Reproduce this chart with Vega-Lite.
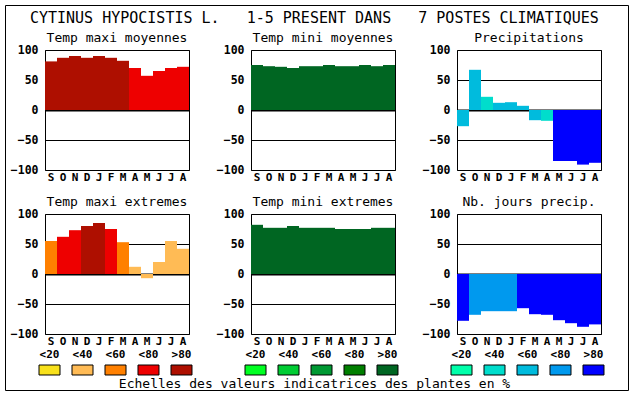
{
  "$schema": "https://vega.github.io/schema/vega-lite/v6.json",
  "background": "white",
  "padding": {"left": 4, "top": 4, "right": 0, "bottom": 0},
  "datasets": {
    "mesures": [
      {"p": "tx_moy", "mois": "Sept", "valeur": 81, "classe": "TX >80"},
      {"p": "tx_moy", "mois": "Oct", "valeur": 87, "classe": "TX >80"},
      {"p": "tx_moy", "mois": "Nov", "valeur": 90, "classe": "TX >80"},
      {"p": "tx_moy", "mois": "Dec", "valeur": 87, "classe": "TX >80"},
      {"p": "tx_moy", "mois": "Janv", "valeur": 90, "classe": "TX >80"},
      {"p": "tx_moy", "mois": "Fevr", "valeur": 87, "classe": "TX >80"},
      {"p": "tx_moy", "mois": "Mars", "valeur": 82, "classe": "TX >80"},
      {"p": "tx_moy", "mois": "Avr", "valeur": 70, "classe": "TX <80"},
      {"p": "tx_moy", "mois": "Mai", "valeur": 57, "classe": "TX <80"},
      {"p": "tx_moy", "mois": "Juin", "valeur": 65, "classe": "TX <80"},
      {"p": "tx_moy", "mois": "Juil", "valeur": 70, "classe": "TX <80"},
      {"p": "tx_moy", "mois": "Aout", "valeur": 72, "classe": "TX <80"},
      {"p": "tn_moy", "mois": "Sept", "valeur": 75, "classe": "TN >80"},
      {"p": "tn_moy", "mois": "Oct", "valeur": 73, "classe": "TN >80"},
      {"p": "tn_moy", "mois": "Nov", "valeur": 72, "classe": "TN >80"},
      {"p": "tn_moy", "mois": "Dec", "valeur": 70, "classe": "TN >80"},
      {"p": "tn_moy", "mois": "Janv", "valeur": 73, "classe": "TN >80"},
      {"p": "tn_moy", "mois": "Fevr", "valeur": 73, "classe": "TN >80"},
      {"p": "tn_moy", "mois": "Mars", "valeur": 75, "classe": "TN >80"},
      {"p": "tn_moy", "mois": "Avr", "valeur": 73, "classe": "TN >80"},
      {"p": "tn_moy", "mois": "Mai", "valeur": 73, "classe": "TN >80"},
      {"p": "tn_moy", "mois": "Juin", "valeur": 75, "classe": "TN >80"},
      {"p": "tn_moy", "mois": "Juil", "valeur": 73, "classe": "TN >80"},
      {"p": "tn_moy", "mois": "Aout", "valeur": 75, "classe": "TN >80"},
      {"p": "pr", "mois": "Sept", "valeur": -27, "classe": "PR <60"},
      {"p": "pr", "mois": "Oct", "valeur": 67, "classe": "PR <60"},
      {"p": "pr", "mois": "Nov", "valeur": 22, "classe": "PR <40"},
      {"p": "pr", "mois": "Dec", "valeur": 12, "classe": "PR <60"},
      {"p": "pr", "mois": "Janv", "valeur": 13, "classe": "PR <60"},
      {"p": "pr", "mois": "Fevr", "valeur": 7, "classe": "PR <60"},
      {"p": "pr", "mois": "Mars", "valeur": -17, "classe": "PR <60"},
      {"p": "pr", "mois": "Avr", "valeur": -18, "classe": "PR <40"},
      {"p": "pr", "mois": "Mai", "valeur": -85, "classe": "PR >80"},
      {"p": "pr", "mois": "Juin", "valeur": -85, "classe": "PR >80"},
      {"p": "pr", "mois": "Juil", "valeur": -91, "classe": "PR >80"},
      {"p": "pr", "mois": "Aout", "valeur": -88, "classe": "PR >80"},
      {"p": "tx_ext", "mois": "Sept", "valeur": 55, "classe": "TX <60"},
      {"p": "tx_ext", "mois": "Oct", "valeur": 62, "classe": "TX <80"},
      {"p": "tx_ext", "mois": "Nov", "valeur": 73, "classe": "TX <80"},
      {"p": "tx_ext", "mois": "Dec", "valeur": 80, "classe": "TX >80"},
      {"p": "tx_ext", "mois": "Janv", "valeur": 85, "classe": "TX >80"},
      {"p": "tx_ext", "mois": "Fevr", "valeur": 75, "classe": "TX <80"},
      {"p": "tx_ext", "mois": "Mars", "valeur": 53, "classe": "TX <60"},
      {"p": "tx_ext", "mois": "Avr", "valeur": 12, "classe": "TX <40"},
      {"p": "tx_ext", "mois": "Mai", "valeur": -7, "classe": "TX <40"},
      {"p": "tx_ext", "mois": "Juin", "valeur": 20, "classe": "TX <40"},
      {"p": "tx_ext", "mois": "Juil", "valeur": 55, "classe": "TX <40"},
      {"p": "tx_ext", "mois": "Aout", "valeur": 42, "classe": "TX <40"},
      {"p": "tn_ext", "mois": "Sept", "valeur": 82, "classe": "TN >80"},
      {"p": "tn_ext", "mois": "Oct", "valeur": 77, "classe": "TN >80"},
      {"p": "tn_ext", "mois": "Nov", "valeur": 77, "classe": "TN >80"},
      {"p": "tn_ext", "mois": "Dec", "valeur": 80, "classe": "TN >80"},
      {"p": "tn_ext", "mois": "Janv", "valeur": 77, "classe": "TN >80"},
      {"p": "tn_ext", "mois": "Fevr", "valeur": 77, "classe": "TN >80"},
      {"p": "tn_ext", "mois": "Mars", "valeur": 77, "classe": "TN >80"},
      {"p": "tn_ext", "mois": "Avr", "valeur": 75, "classe": "TN >80"},
      {"p": "tn_ext", "mois": "Mai", "valeur": 75, "classe": "TN >80"},
      {"p": "tn_ext", "mois": "Juin", "valeur": 75, "classe": "TN >80"},
      {"p": "tn_ext", "mois": "Juil", "valeur": 77, "classe": "TN >80"},
      {"p": "tn_ext", "mois": "Aout", "valeur": 77, "classe": "TN >80"},
      {"p": "nj", "mois": "Sept", "valeur": -78, "classe": "PR >80"},
      {"p": "nj", "mois": "Oct", "valeur": -68, "classe": "PR <80"},
      {"p": "nj", "mois": "Nov", "valeur": -62, "classe": "PR <80"},
      {"p": "nj", "mois": "Dec", "valeur": -62, "classe": "PR <80"},
      {"p": "nj", "mois": "Janv", "valeur": -62, "classe": "PR <80"},
      {"p": "nj", "mois": "Fevr", "valeur": -57, "classe": "PR >80"},
      {"p": "nj", "mois": "Mars", "valeur": -67, "classe": "PR >80"},
      {"p": "nj", "mois": "Avr", "valeur": -68, "classe": "PR >80"},
      {"p": "nj", "mois": "Mai", "valeur": -77, "classe": "PR >80"},
      {"p": "nj", "mois": "Juin", "valeur": -82, "classe": "PR >80"},
      {"p": "nj", "mois": "Juil", "valeur": -88, "classe": "PR >80"},
      {"p": "nj", "mois": "Aout", "valeur": -84, "classe": "PR >80"}
    ],
    "echelles": [
      {"e": "TX", "rang": 1, "seuil": "<20", "classe": "TX <20"}, {"e": "TX", "rang": 2, "seuil": "<40", "classe": "TX <40"}, {"e": "TX", "rang": 3, "seuil": "<60", "classe": "TX <60"}, {"e": "TX", "rang": 4, "seuil": "<80", "classe": "TX <80"}, {"e": "TX", "rang": 5, "seuil": ">80", "classe": "TX >80"},
      {"e": "TN", "rang": 1, "seuil": "<20", "classe": "TN <20"}, {"e": "TN", "rang": 2, "seuil": "<40", "classe": "TN <40"}, {"e": "TN", "rang": 3, "seuil": "<60", "classe": "TN <60"}, {"e": "TN", "rang": 4, "seuil": "<80", "classe": "TN <80"}, {"e": "TN", "rang": 5, "seuil": ">80", "classe": "TN >80"},
      {"e": "PR", "rang": 1, "seuil": "<20", "classe": "PR <20"}, {"e": "PR", "rang": 2, "seuil": "<40", "classe": "PR <40"}, {"e": "PR", "rang": 3, "seuil": "<60", "classe": "PR <60"}, {"e": "PR", "rang": 4, "seuil": "<80", "classe": "PR <80"}, {"e": "PR", "rang": 5, "seuil": ">80", "classe": "PR >80"}
    ],
    "cadre": [{"c": 1}]
  },
  "align": "none",
  "spacing": -381,
  "vconcat": [
    {
      "width": 623, "height": 385,
      "view": {"stroke": "black", "strokeWidth": 1},
      "data": {"name": "cadre"},
      "mark": {"type": "point", "opacity": 0, "size": 0, "strokeWidth": 0},
      "encoding": {
        "x": {"field": "c", "type": "quantitative", "axis": null},
        "y": {"field": "c", "type": "quantitative", "axis": null}
      }
    },
    {
      "spacing": 3,
      "hconcat": [
        {
          "width": 1, "height": 1,
          "view": {"stroke": null},
          "data": {"name": "cadre"},
          "mark": {"type": "point", "opacity": 0, "size": 0, "strokeWidth": 0},
          "encoding": {}
        },
        {
          "title": {"text": "CYTINUS HYPOCISTIS L.\u00a0\u00a0\u00a01-5 PRESENT DANS\u00a0\u00a0\u00a07 POSTES CLIMATIQUES", "fontSize": 15, "anchor": "middle", "offset": 6, "frame": "bounds", "dx": 6.5},
          "spacing": 2,
          "vconcat": [
            {
              "spacing": 12,
              "vconcat": [
                {
                  "spacing": 25,
                  "hconcat": [
                    {
                      "title": {"text": "Temp maxi moyennes", "frame": "group"},
                      "width": 144, "height": 120,
                      "data": {"name": "mesures"},
                      "transform": [{"filter": "datum.p === 'tx_moy'"}],
                      "mark": "bar",
                      "encoding": {
                        "x": {"field": "mois", "type": "nominal", "sort": ["Sept","Oct","Nov","Dec","Janv","Fevr","Mars","Avr","Mai","Juin","Juil","Aout"], "scale": {"paddingInner": 0, "paddingOuter": 0}, "axis": {"labelExpr": "slice(datum.label,0,1)"}},
                        "y": {"field": "valeur", "type": "quantitative", "scale": {"domain": [-100, 100], "nice": false}, "axis": {"values": [-100,-50,0,50,100], "gridWidth": {"condition": {"test": "datum.value === 0", "value": 2}, "value": 1}}},
                        "color": {"field": "classe", "type": "nominal", "legend": null, "scale": {"domain": ["TX <20","TX <40","TX <60","TX <80","TX >80","TN <20","TN <40","TN <60","TN <80","TN >80","PR <20","PR <40","PR <60","PR <80","PR >80"], "range": ["#F8E11B","#FFBB55","#FF8000","#EE0000","#AE0F00","#00FF22","#00CC33","#009933","#007F00","#006622","#00FFAA","#00DDCC","#00BBDD","#0099EE","#0000FF"]}}
                      }
                    },
                    {
                      "title": {"text": "Temp mini moyennes", "frame": "group"},
                      "width": 144, "height": 120,
                      "data": {"name": "mesures"},
                      "transform": [{"filter": "datum.p === 'tn_moy'"}],
                      "mark": "bar",
                      "encoding": {
                        "x": {"field": "mois", "type": "nominal", "sort": ["Sept","Oct","Nov","Dec","Janv","Fevr","Mars","Avr","Mai","Juin","Juil","Aout"], "scale": {"paddingInner": 0, "paddingOuter": 0}, "axis": {"labelExpr": "slice(datum.label,0,1)"}},
                        "y": {"field": "valeur", "type": "quantitative", "scale": {"domain": [-100, 100], "nice": false}, "axis": {"values": [-100,-50,0,50,100], "gridWidth": {"condition": {"test": "datum.value === 0", "value": 2}, "value": 1}}},
                        "color": {"field": "classe", "type": "nominal", "legend": null, "scale": {"domain": ["TX <20","TX <40","TX <60","TX <80","TX >80","TN <20","TN <40","TN <60","TN <80","TN >80","PR <20","PR <40","PR <60","PR <80","PR >80"], "range": ["#F8E11B","#FFBB55","#FF8000","#EE0000","#AE0F00","#00FF22","#00CC33","#009933","#007F00","#006622","#00FFAA","#00DDCC","#00BBDD","#0099EE","#0000FF"]}}
                      }
                    },
                    {
                      "title": {"text": "Precipitations", "frame": "group"},
                      "width": 144, "height": 120,
                      "data": {"name": "mesures"},
                      "transform": [{"filter": "datum.p === 'pr'"}],
                      "mark": "bar",
                      "encoding": {
                        "x": {"field": "mois", "type": "nominal", "sort": ["Sept","Oct","Nov","Dec","Janv","Fevr","Mars","Avr","Mai","Juin","Juil","Aout"], "scale": {"paddingInner": 0, "paddingOuter": 0}, "axis": {"labelExpr": "slice(datum.label,0,1)"}},
                        "y": {"field": "valeur", "type": "quantitative", "scale": {"domain": [-100, 100], "nice": false}, "axis": {"values": [-100,-50,0,50,100], "gridWidth": {"condition": {"test": "datum.value === 0", "value": 2}, "value": 1}}},
                        "color": {"field": "classe", "type": "nominal", "legend": null, "scale": {"domain": ["TX <20","TX <40","TX <60","TX <80","TX >80","TN <20","TN <40","TN <60","TN <80","TN >80","PR <20","PR <40","PR <60","PR <80","PR >80"], "range": ["#F8E11B","#FFBB55","#FF8000","#EE0000","#AE0F00","#00FF22","#00CC33","#009933","#007F00","#006622","#00FFAA","#00DDCC","#00BBDD","#0099EE","#0000FF"]}}
                      }
                    }
                  ]
                },
                {
                  "spacing": 25,
                  "hconcat": [
                    {
                      "title": {"text": "Temp maxi extremes", "frame": "group"},
                      "width": 144, "height": 120,
                      "data": {"name": "mesures"},
                      "transform": [{"filter": "datum.p === 'tx_ext'"}],
                      "mark": "bar",
                      "encoding": {
                        "x": {"field": "mois", "type": "nominal", "sort": ["Sept","Oct","Nov","Dec","Janv","Fevr","Mars","Avr","Mai","Juin","Juil","Aout"], "scale": {"paddingInner": 0, "paddingOuter": 0}, "axis": {"labelExpr": "slice(datum.label,0,1)"}},
                        "y": {"field": "valeur", "type": "quantitative", "scale": {"domain": [-100, 100], "nice": false}, "axis": {"values": [-100,-50,0,50,100], "gridWidth": {"condition": {"test": "datum.value === 0", "value": 2}, "value": 1}}},
                        "color": {"field": "classe", "type": "nominal", "legend": null, "scale": {"domain": ["TX <20","TX <40","TX <60","TX <80","TX >80","TN <20","TN <40","TN <60","TN <80","TN >80","PR <20","PR <40","PR <60","PR <80","PR >80"], "range": ["#F8E11B","#FFBB55","#FF8000","#EE0000","#AE0F00","#00FF22","#00CC33","#009933","#007F00","#006622","#00FFAA","#00DDCC","#00BBDD","#0099EE","#0000FF"]}}
                      }
                    },
                    {
                      "title": {"text": "Temp mini extremes", "frame": "group"},
                      "width": 144, "height": 120,
                      "data": {"name": "mesures"},
                      "transform": [{"filter": "datum.p === 'tn_ext'"}],
                      "mark": "bar",
                      "encoding": {
                        "x": {"field": "mois", "type": "nominal", "sort": ["Sept","Oct","Nov","Dec","Janv","Fevr","Mars","Avr","Mai","Juin","Juil","Aout"], "scale": {"paddingInner": 0, "paddingOuter": 0}, "axis": {"labelExpr": "slice(datum.label,0,1)"}},
                        "y": {"field": "valeur", "type": "quantitative", "scale": {"domain": [-100, 100], "nice": false}, "axis": {"values": [-100,-50,0,50,100], "gridWidth": {"condition": {"test": "datum.value === 0", "value": 2}, "value": 1}}},
                        "color": {"field": "classe", "type": "nominal", "legend": null, "scale": {"domain": ["TX <20","TX <40","TX <60","TX <80","TX >80","TN <20","TN <40","TN <60","TN <80","TN >80","PR <20","PR <40","PR <60","PR <80","PR >80"], "range": ["#F8E11B","#FFBB55","#FF8000","#EE0000","#AE0F00","#00FF22","#00CC33","#009933","#007F00","#006622","#00FFAA","#00DDCC","#00BBDD","#0099EE","#0000FF"]}}
                      }
                    },
                    {
                      "title": {"text": "Nb. jours precip.", "frame": "group"},
                      "width": 144, "height": 120,
                      "data": {"name": "mesures"},
                      "transform": [{"filter": "datum.p === 'nj'"}],
                      "mark": "bar",
                      "encoding": {
                        "x": {"field": "mois", "type": "nominal", "sort": ["Sept","Oct","Nov","Dec","Janv","Fevr","Mars","Avr","Mai","Juin","Juil","Aout"], "scale": {"paddingInner": 0, "paddingOuter": 0}, "axis": {"labelExpr": "slice(datum.label,0,1)"}},
                        "y": {"field": "valeur", "type": "quantitative", "scale": {"domain": [-100, 100], "nice": false}, "axis": {"values": [-100,-50,0,50,100], "gridWidth": {"condition": {"test": "datum.value === 0", "value": 2}, "value": 1}}},
                        "color": {"field": "classe", "type": "nominal", "legend": null, "scale": {"domain": ["TX <20","TX <40","TX <60","TX <80","TX >80","TN <20","TN <40","TN <60","TN <80","TN >80","PR <20","PR <40","PR <60","PR <80","PR >80"], "range": ["#F8E11B","#FFBB55","#FF8000","#EE0000","#AE0F00","#00FF22","#00CC33","#009933","#007F00","#006622","#00FFAA","#00DDCC","#00BBDD","#0099EE","#0000FF"]}}
                      }
                    }
                  ]
                }
              ]
            },
            {
              "title": {"text": "Echelles des valeurs indicatrices des plantes en %", "orient": "bottom", "fontSize": 13, "offset": 1, "anchor": "middle", "frame": "bounds", "dx": -7},
              "spacing": 49,
              "hconcat": [
                {
                  "width": 144, "height": 10,
                  "view": {"stroke": null},
                  "data": {"name": "echelles"},
                  "transform": [{"filter": "datum.e === 'TX'"}],
                  "encoding": {
                    "x": {"field": "rang", "type": "quantitative", "scale": {"domain": [0.8636, 5.2273], "nice": false, "zero": false}, "axis": null}
                  },
                  "layer": [
                    {
                      "mark": {"type": "point", "shape": "M-1,-0.476H1V0.476H-1Z", "size": 441, "filled": true, "opacity": 1, "stroke": "black", "strokeWidth": 1},
                      "encoding": {"color": {"field": "classe", "type": "nominal", "legend": null, "scale": {"domain": ["TX <20","TX <40","TX <60","TX <80","TX >80","TN <20","TN <40","TN <60","TN <80","TN >80","PR <20","PR <40","PR <60","PR <80","PR >80"], "range": ["#F8E11B","#FFBB55","#FF8000","#EE0000","#AE0F00","#00FF22","#00CC33","#009933","#007F00","#006622","#00FFAA","#00DDCC","#00BBDD","#0099EE","#0000FF"]}}}
                    },
                    {
                      "mark": {"type": "text", "fontWeight": "bold", "fontSize": 11, "baseline": "middle", "dy": -15, "color": "black"},
                      "encoding": {"text": {"field": "seuil"}}
                    }
                  ]
                },
                {
                  "width": 144, "height": 10,
                  "view": {"stroke": null},
                  "data": {"name": "echelles"},
                  "transform": [{"filter": "datum.e === 'TN'"}],
                  "encoding": {
                    "x": {"field": "rang", "type": "quantitative", "scale": {"domain": [0.8636, 5.2273], "nice": false, "zero": false}, "axis": null}
                  },
                  "layer": [
                    {
                      "mark": {"type": "point", "shape": "M-1,-0.476H1V0.476H-1Z", "size": 441, "filled": true, "opacity": 1, "stroke": "black", "strokeWidth": 1},
                      "encoding": {"color": {"field": "classe", "type": "nominal", "legend": null, "scale": {"domain": ["TX <20","TX <40","TX <60","TX <80","TX >80","TN <20","TN <40","TN <60","TN <80","TN >80","PR <20","PR <40","PR <60","PR <80","PR >80"], "range": ["#F8E11B","#FFBB55","#FF8000","#EE0000","#AE0F00","#00FF22","#00CC33","#009933","#007F00","#006622","#00FFAA","#00DDCC","#00BBDD","#0099EE","#0000FF"]}}}
                    },
                    {
                      "mark": {"type": "text", "fontWeight": "bold", "fontSize": 11, "baseline": "middle", "dy": -15, "color": "black"},
                      "encoding": {"text": {"field": "seuil"}}
                    }
                  ]
                },
                {
                  "width": 144, "height": 10,
                  "view": {"stroke": null},
                  "data": {"name": "echelles"},
                  "transform": [{"filter": "datum.e === 'PR'"}],
                  "encoding": {
                    "x": {"field": "rang", "type": "quantitative", "scale": {"domain": [0.8636, 5.2273], "nice": false, "zero": false}, "axis": null}
                  },
                  "layer": [
                    {
                      "mark": {"type": "point", "shape": "M-1,-0.476H1V0.476H-1Z", "size": 441, "filled": true, "opacity": 1, "stroke": "black", "strokeWidth": 1},
                      "encoding": {"color": {"field": "classe", "type": "nominal", "legend": null, "scale": {"domain": ["TX <20","TX <40","TX <60","TX <80","TX >80","TN <20","TN <40","TN <60","TN <80","TN >80","PR <20","PR <40","PR <60","PR <80","PR >80"], "range": ["#F8E11B","#FFBB55","#FF8000","#EE0000","#AE0F00","#00FF22","#00CC33","#009933","#007F00","#006622","#00FFAA","#00DDCC","#00BBDD","#0099EE","#0000FF"]}}}
                    },
                    {
                      "mark": {"type": "text", "fontWeight": "bold", "fontSize": 11, "baseline": "middle", "dy": -15, "color": "black"},
                      "encoding": {"text": {"field": "seuil"}}
                    }
                  ]
                }
              ]
            }
          ]
        }
      ]
    }
  ],
  "config": {
    "font": "DejaVu Sans Mono",
    "view": {"stroke": "black", "strokeWidth": 1},
    "title": {"font": "DejaVu Sans Mono", "fontWeight": "normal", "color": "black", "fontSize": 13, "offset": -1},
    "axis": {"labelFont": "DejaVu Sans Mono", "labelFontWeight": "bold", "labelColor": "black", "ticks": false, "domain": false, "title": null, "labelFontSize": 11},
    "axisX": {"labelAngle": 0, "labelPadding": 1, "grid": false},
    "axisY": {"labelPadding": 7, "labelFontSize": 11.5, "grid": true, "gridColor": "black", "gridOpacity": 1, "zindex": 1}
  }
}
